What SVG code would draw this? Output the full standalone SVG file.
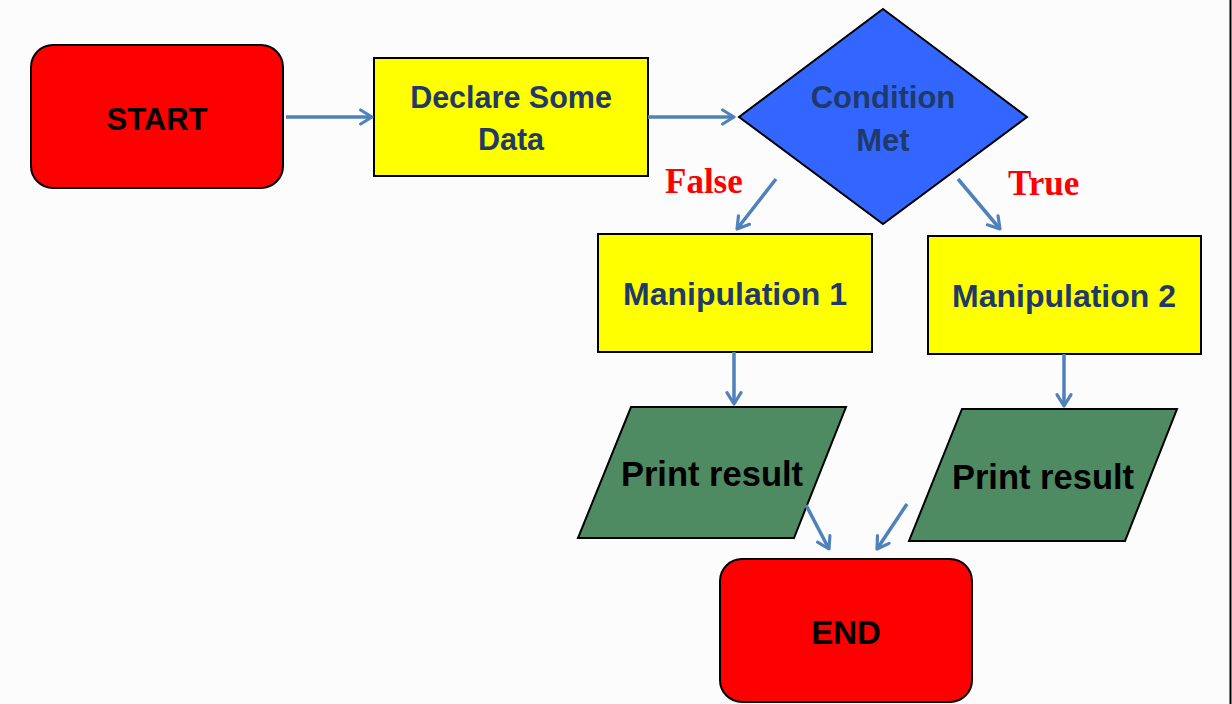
<svg xmlns="http://www.w3.org/2000/svg" width="1232" height="704" viewBox="0 0 1232 704">
<style>
.n{stroke:#000;stroke-width:2}
.red{fill:#ff0000}
.yel{fill:#ffff00}
.blue{fill:#3366ff}
.grn{fill:#4e8b63}
.t{font-family:"Liberation Sans",Arial,sans-serif;font-weight:bold;text-anchor:middle}
.navy{fill:#1f3a68}
.blk{fill:#000}
.lbl{font-family:"Liberation Serif","Times New Roman",serif;font-weight:bold;fill:#ff0000;font-size:35px}
.c{stroke:#4f81bd;stroke-width:3.5;fill:none;marker-end:url(#ah)}
</style>
<defs>
<marker id="ah" viewBox="0 0 10 10" refX="8.5" refY="5" markerWidth="5" markerHeight="5" orient="auto" markerUnits="strokeWidth">
<polyline points="2,1 8.5,5 2,9" fill="none" stroke="#4f81bd" stroke-width="1.8" stroke-linecap="round" stroke-linejoin="round"/>
</marker>
</defs>
<rect x="0" y="0" width="1232" height="704" fill="#fcfcfc"/>
<line x1="1230.5" y1="0" x2="1230.5" y2="704" stroke="#000" stroke-width="2"/>
<g id="start"><rect class="n red" x="31" y="45" width="252" height="143" rx="22"/><text class="t blk" x="157" y="130" font-size="31">START</text></g>
<g id="declare"><rect class="n yel" x="374" y="58" width="274" height="118"/><text class="t navy" x="511" y="108" font-size="30.5">Declare Some</text><text class="t navy" x="511" y="150" font-size="30.5">Data</text></g>
<g id="condition"><polygon class="n blue" points="883,9 1027,117 883,224 739,117"/><text class="t navy" x="883" y="108" font-size="31">Condition</text><text class="t navy" x="883" y="151" font-size="31">Met</text></g>
<g id="manip1"><rect class="n yel" x="598" y="234" width="274" height="118"/><text class="t navy" x="735" y="305" font-size="32">Manipulation 1</text></g>
<g id="manip2"><rect class="n yel" x="928" y="236" width="273" height="118"/><text class="t navy" x="1064" y="307" font-size="32">Manipulation 2</text></g>
<g id="print1"><polygon class="n grn" points="631,407 846,407 794,538 578,538"/><text class="t blk" x="712" y="486" font-size="34.5">Print result</text></g>
<g id="print2"><polygon class="n grn" points="962,409 1177,409 1125,541 909,541"/><text class="t blk" x="1043" y="489" font-size="34.5">Print result</text></g>
<g id="end"><rect class="n red" x="720" y="559" width="252" height="143" rx="22"/><text class="t blk" x="846" y="644" font-size="33">END</text></g>
<g id="labels"><text class="lbl" x="665" y="193">False</text><text class="lbl" x="1008" y="195">True</text></g>
<g id="connectors">
<line class="c" x1="286" y1="117" x2="372" y2="117"/>
<line class="c" x1="648" y1="117" x2="734" y2="117"/>
<line class="c" x1="776" y1="179" x2="737" y2="229"/>
<line class="c" x1="958" y1="179" x2="1000" y2="229"/>
<line class="c" x1="734" y1="352" x2="734" y2="404"/>
<line class="c" x1="1064" y1="354" x2="1064" y2="406"/>
<line class="c" x1="806" y1="505" x2="829" y2="549"/>
<line class="c" x1="907" y1="504" x2="877" y2="549"/>
</g>
</svg>
